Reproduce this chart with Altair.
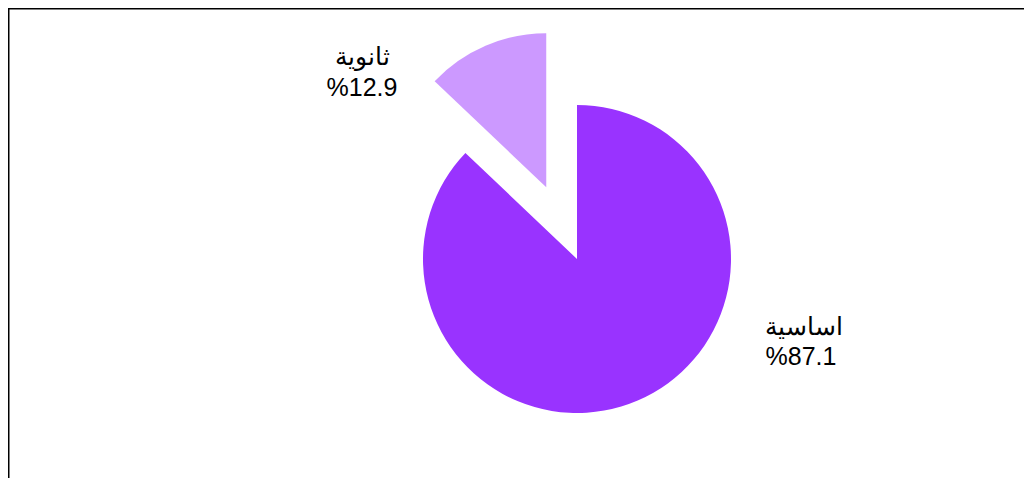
import math
import altair as alt
import pandas as pd

# ---- data ----
categories = ["اساسية", "ثانوية"]
shares = [87.1, 12.9]

# ---- style / layout ----
colors = ["#9933FF", "#CC99FF"]
W, H = 1016, 470
CX, CY, R = 569, 251, 154
EXPLODE = 78
FONT = "Liberation Sans"
FS = 25

df = pd.DataFrame({"category": categories, "share": shares})

base = (
    alt.Chart(df)
    .transform_window(cum="sum(share)", frame=[None, 0])
    .transform_calculate(
        start="datum.cum - datum.share",
        end="datum.cum",
        mid="datum.cum - datum.share / 2",
        ex=f"datum.category == '{categories[1]}' ? {EXPLODE} : 0",
    )
    .transform_calculate(
        px=f"{CX} + datum.ex * sin(datum.mid / 100 * 2 * PI)",
        py=f"{CY} - datum.ex * cos(datum.mid / 100 * 2 * PI)",
    )
)

pie = base.mark_arc(radius=R).encode(
    theta=alt.Theta("start:Q", scale=alt.Scale(domain=[0, 100], range=[0, 2 * math.pi])),
    theta2="end:Q",
    x=alt.X("px:Q", scale=None, axis=None),
    y=alt.Y("py:Q", scale=None, axis=None),
    color=alt.Color("category:N", scale=alt.Scale(domain=categories, range=colors), legend=None),
)

label_pos = {categories[0]: (796, 319, 793, 349), categories[1]: (354, 49, 354, 80)}

labels = []
for cat, (x1, y1, x2, y2) in label_pos.items():
    lb = alt.Chart(df).transform_filter(alt.datum.category == cat).transform_calculate(
        pct="'%' + format(datum.share, '.1f')"
    )
    labels.append(
        lb.mark_text(font=FONT, fontSize=FS, color="black", align="center", baseline="middle").encode(
            x=alt.value(x1), y=alt.value(y1), text="category:N"
        )
    )
    labels.append(
        lb.mark_text(font=FONT, fontSize=FS, color="black", align="center", baseline="middle").encode(
            x=alt.value(x2), y=alt.value(y2), text="pct:N"
        )
    )

dummy = pd.DataFrame({"a": [0]})
top_rule = alt.Chart(dummy).mark_rule(color="black", strokeWidth=2).encode(
    x=alt.value(0), x2=alt.value(W), y=alt.value(0.5)
)
left_rule = alt.Chart(dummy).mark_rule(color="black", strokeWidth=2).encode(
    x=alt.value(0.5), y=alt.value(0), y2=alt.value(H)
)

chart = (
    alt.layer(pie, *labels, top_rule, left_rule)
    .properties(width=W, height=H, padding=0, autosize=alt.AutoSizeParams(type="none"))
    .configure_view(stroke=None)
)

chart.save("out.html", embed_options={"renderer": "svg", "actions": False})
